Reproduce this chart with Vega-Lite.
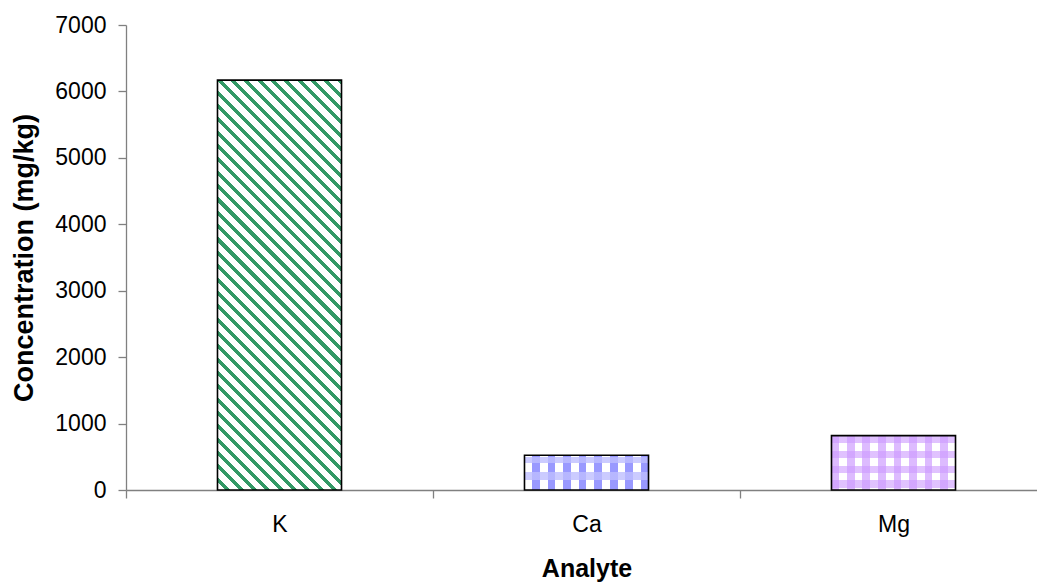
{
  "$schema": "https://vega.github.io/schema/vega-lite/v6.json",
  "width": 911,
  "height": 465,
  "autosize": {"type": "none"},
  "padding": {"left": 126, "top": 25, "right": 0, "bottom": 95},
  "background": "white",
  "config": {"view": {"stroke": null}, "font": "Liberation Sans"},
  "data": {"values": [
    {"Analyte": "K", "Concentration": 6170},
    {"Analyte": "Ca", "Concentration": 522},
    {"Analyte": "Mg", "Concentration": 818}
  ]},
  "encoding": {
    "x": {
      "field": "Analyte", "type": "nominal", "sort": ["K", "Ca", "Mg"],
      "scale": {"range": [0, 921], "paddingInner": 0, "paddingOuter": 0},
      "axis": {"title": "Analyte", "labelAngle": 0, "tickBand": "extent", "grid": false,
        "domainColor": "#808080", "tickColor": "#808080", "tickSize": 8, "domainWidth": 1.3, "tickWidth": 1.3,
        "labelFontSize": 23, "labelColor": "#000000", "labelPadding": 15,
        "titleFontSize": 25, "titleFontWeight": "bold", "titleColor": "#000000", "titlePadding": 20}
    },
    "y": {
      "field": "Concentration", "type": "quantitative",
      "scale": {"domain": [0, 7000], "nice": false},
      "axis": {"title": "Concentration (mg/kg)", "values": [0, 1000, 2000, 3000, 4000, 5000, 6000, 7000],
        "format": "d", "grid": false,
        "domainColor": "#808080", "tickColor": "#808080", "tickSize": 8, "domainWidth": 1.3, "tickWidth": 1.3,
        "labelFontSize": 23, "labelColor": "#000000", "labelPadding": 12,
        "titleFontSize": 27, "titleFontWeight": "bold", "titleColor": "#000000", "titlePadding": 16}
    }
  },
  "layer": [
    {
      "transform": [{"filter": "datum.Analyte == 'K'"}],
      "mark": {"type": "bar", "width": {"band": 0.404}, "fill": {
        "gradient": "linear", "x1": 0, "y1": 1, "x2": 0.361, "y2": -0.193,
        "stops": [
          {"offset": 0, "color": "#ffffff"}, {"offset": 0.0155, "color": "#ffffff"}, {"offset": 0.0155, "color": "#339966"}, {"offset": 0.025, "color": "#339966"},
          {"offset": 0.025, "color": "#ffffff"}, {"offset": 0.0405, "color": "#ffffff"}, {"offset": 0.0405, "color": "#339966"}, {"offset": 0.05, "color": "#339966"},
          {"offset": 0.05, "color": "#ffffff"}, {"offset": 0.0655, "color": "#ffffff"}, {"offset": 0.0655, "color": "#339966"}, {"offset": 0.075, "color": "#339966"},
          {"offset": 0.075, "color": "#ffffff"}, {"offset": 0.0905, "color": "#ffffff"}, {"offset": 0.0905, "color": "#339966"}, {"offset": 0.1, "color": "#339966"},
          {"offset": 0.1, "color": "#ffffff"}, {"offset": 0.1155, "color": "#ffffff"}, {"offset": 0.1155, "color": "#339966"}, {"offset": 0.125, "color": "#339966"},
          {"offset": 0.125, "color": "#ffffff"}, {"offset": 0.1405, "color": "#ffffff"}, {"offset": 0.1405, "color": "#339966"}, {"offset": 0.15, "color": "#339966"},
          {"offset": 0.15, "color": "#ffffff"}, {"offset": 0.1655, "color": "#ffffff"}, {"offset": 0.1655, "color": "#339966"}, {"offset": 0.175, "color": "#339966"},
          {"offset": 0.175, "color": "#ffffff"}, {"offset": 0.1905, "color": "#ffffff"}, {"offset": 0.1905, "color": "#339966"}, {"offset": 0.2, "color": "#339966"},
          {"offset": 0.2, "color": "#ffffff"}, {"offset": 0.2155, "color": "#ffffff"}, {"offset": 0.2155, "color": "#339966"}, {"offset": 0.225, "color": "#339966"},
          {"offset": 0.225, "color": "#ffffff"}, {"offset": 0.2405, "color": "#ffffff"}, {"offset": 0.2405, "color": "#339966"}, {"offset": 0.25, "color": "#339966"},
          {"offset": 0.25, "color": "#ffffff"}, {"offset": 0.2655, "color": "#ffffff"}, {"offset": 0.2655, "color": "#339966"}, {"offset": 0.275, "color": "#339966"},
          {"offset": 0.275, "color": "#ffffff"}, {"offset": 0.2905, "color": "#ffffff"}, {"offset": 0.2905, "color": "#339966"}, {"offset": 0.3, "color": "#339966"},
          {"offset": 0.3, "color": "#ffffff"}, {"offset": 0.3155, "color": "#ffffff"}, {"offset": 0.3155, "color": "#339966"}, {"offset": 0.325, "color": "#339966"},
          {"offset": 0.325, "color": "#ffffff"}, {"offset": 0.3405, "color": "#ffffff"}, {"offset": 0.3405, "color": "#339966"}, {"offset": 0.35, "color": "#339966"},
          {"offset": 0.35, "color": "#ffffff"}, {"offset": 0.3655, "color": "#ffffff"}, {"offset": 0.3655, "color": "#339966"}, {"offset": 0.375, "color": "#339966"},
          {"offset": 0.375, "color": "#ffffff"}, {"offset": 0.3905, "color": "#ffffff"}, {"offset": 0.3905, "color": "#339966"}, {"offset": 0.4, "color": "#339966"},
          {"offset": 0.4, "color": "#ffffff"}, {"offset": 0.4155, "color": "#ffffff"}, {"offset": 0.4155, "color": "#339966"}, {"offset": 0.425, "color": "#339966"},
          {"offset": 0.425, "color": "#ffffff"}, {"offset": 0.4405, "color": "#ffffff"}, {"offset": 0.4405, "color": "#339966"}, {"offset": 0.45, "color": "#339966"},
          {"offset": 0.45, "color": "#ffffff"}, {"offset": 0.4655, "color": "#ffffff"}, {"offset": 0.4655, "color": "#339966"}, {"offset": 0.475, "color": "#339966"},
          {"offset": 0.475, "color": "#ffffff"}, {"offset": 0.4905, "color": "#ffffff"}, {"offset": 0.4905, "color": "#339966"}, {"offset": 0.5, "color": "#339966"},
          {"offset": 0.5, "color": "#ffffff"}, {"offset": 0.5155, "color": "#ffffff"}, {"offset": 0.5155, "color": "#339966"}, {"offset": 0.525, "color": "#339966"},
          {"offset": 0.525, "color": "#ffffff"}, {"offset": 0.5405, "color": "#ffffff"}, {"offset": 0.5405, "color": "#339966"}, {"offset": 0.55, "color": "#339966"},
          {"offset": 0.55, "color": "#ffffff"}, {"offset": 0.5655, "color": "#ffffff"}, {"offset": 0.5655, "color": "#339966"}, {"offset": 0.575, "color": "#339966"},
          {"offset": 0.575, "color": "#ffffff"}, {"offset": 0.5905, "color": "#ffffff"}, {"offset": 0.5905, "color": "#339966"}, {"offset": 0.6, "color": "#339966"},
          {"offset": 0.6, "color": "#ffffff"}, {"offset": 0.6155, "color": "#ffffff"}, {"offset": 0.6155, "color": "#339966"}, {"offset": 0.625, "color": "#339966"},
          {"offset": 0.625, "color": "#ffffff"}, {"offset": 0.6405, "color": "#ffffff"}, {"offset": 0.6405, "color": "#339966"}, {"offset": 0.65, "color": "#339966"},
          {"offset": 0.65, "color": "#ffffff"}, {"offset": 0.6655, "color": "#ffffff"}, {"offset": 0.6655, "color": "#339966"}, {"offset": 0.675, "color": "#339966"},
          {"offset": 0.675, "color": "#ffffff"}, {"offset": 0.6905, "color": "#ffffff"}, {"offset": 0.6905, "color": "#339966"}, {"offset": 0.7, "color": "#339966"},
          {"offset": 0.7, "color": "#ffffff"}, {"offset": 0.7155, "color": "#ffffff"}, {"offset": 0.7155, "color": "#339966"}, {"offset": 0.725, "color": "#339966"},
          {"offset": 0.725, "color": "#ffffff"}, {"offset": 0.7405, "color": "#ffffff"}, {"offset": 0.7405, "color": "#339966"}, {"offset": 0.75, "color": "#339966"},
          {"offset": 0.75, "color": "#ffffff"}, {"offset": 0.7655, "color": "#ffffff"}, {"offset": 0.7655, "color": "#339966"}, {"offset": 0.775, "color": "#339966"},
          {"offset": 0.775, "color": "#ffffff"}, {"offset": 0.7905, "color": "#ffffff"}, {"offset": 0.7905, "color": "#339966"}, {"offset": 0.8, "color": "#339966"},
          {"offset": 0.8, "color": "#ffffff"}, {"offset": 0.8155, "color": "#ffffff"}, {"offset": 0.8155, "color": "#339966"}, {"offset": 0.825, "color": "#339966"},
          {"offset": 0.825, "color": "#ffffff"}, {"offset": 0.8405, "color": "#ffffff"}, {"offset": 0.8405, "color": "#339966"}, {"offset": 0.85, "color": "#339966"},
          {"offset": 0.85, "color": "#ffffff"}, {"offset": 0.8655, "color": "#ffffff"}, {"offset": 0.8655, "color": "#339966"}, {"offset": 0.875, "color": "#339966"},
          {"offset": 0.875, "color": "#ffffff"}, {"offset": 0.8905, "color": "#ffffff"}, {"offset": 0.8905, "color": "#339966"}, {"offset": 0.9, "color": "#339966"},
          {"offset": 0.9, "color": "#ffffff"}, {"offset": 0.9155, "color": "#ffffff"}, {"offset": 0.9155, "color": "#339966"}, {"offset": 0.925, "color": "#339966"},
          {"offset": 0.925, "color": "#ffffff"}, {"offset": 0.9405, "color": "#ffffff"}, {"offset": 0.9405, "color": "#339966"}, {"offset": 0.95, "color": "#339966"},
          {"offset": 0.95, "color": "#ffffff"}, {"offset": 0.9655, "color": "#ffffff"}, {"offset": 0.9655, "color": "#339966"}, {"offset": 0.975, "color": "#339966"},
          {"offset": 0.975, "color": "#ffffff"}, {"offset": 0.9905, "color": "#ffffff"}, {"offset": 0.9905, "color": "#339966"}, {"offset": 1, "color": "#339966"}
        ]}}
    },
    {
      "transform": [{"filter": "datum.Analyte == 'Ca'"}],
      "mark": {"type": "bar", "width": {"band": 0.404}, "fill": {
        "gradient": "linear", "x1": 0, "y1": 0, "x2": 1, "y2": 0,
        "stops": [
          {"offset": 0, "color": "#ffffff"}, {"offset": 0.0625, "color": "#ffffff"}, {"offset": 0.0625, "color": "#9999ff"}, {"offset": 0.125, "color": "#9999ff"},
          {"offset": 0.125, "color": "#ffffff"}, {"offset": 0.1875, "color": "#ffffff"}, {"offset": 0.1875, "color": "#9999ff"}, {"offset": 0.25, "color": "#9999ff"},
          {"offset": 0.25, "color": "#ffffff"}, {"offset": 0.3125, "color": "#ffffff"}, {"offset": 0.3125, "color": "#9999ff"}, {"offset": 0.375, "color": "#9999ff"},
          {"offset": 0.375, "color": "#ffffff"}, {"offset": 0.4375, "color": "#ffffff"}, {"offset": 0.4375, "color": "#9999ff"}, {"offset": 0.5, "color": "#9999ff"},
          {"offset": 0.5, "color": "#ffffff"}, {"offset": 0.5625, "color": "#ffffff"}, {"offset": 0.5625, "color": "#9999ff"}, {"offset": 0.625, "color": "#9999ff"},
          {"offset": 0.625, "color": "#ffffff"}, {"offset": 0.6875, "color": "#ffffff"}, {"offset": 0.6875, "color": "#9999ff"}, {"offset": 0.75, "color": "#9999ff"},
          {"offset": 0.75, "color": "#ffffff"}, {"offset": 0.8125, "color": "#ffffff"}, {"offset": 0.8125, "color": "#9999ff"}, {"offset": 0.875, "color": "#9999ff"},
          {"offset": 0.875, "color": "#ffffff"}, {"offset": 0.9375, "color": "#ffffff"}, {"offset": 0.9375, "color": "#9999ff"}, {"offset": 1, "color": "#9999ff"}
        ]}}
    },
    {
      "transform": [{"filter": "datum.Analyte == 'Ca'"}],
      "mark": {"type": "bar", "width": {"band": 0.404}, "fill": {
        "gradient": "linear", "x1": 0, "y1": 0, "x2": 0, "y2": 1,
        "stops": [
          {"offset": 0, "color": "rgba(255,255,255,0)"}, {"offset": 0.04, "color": "rgba(255,255,255,0)"},
          {"offset": 0.04, "color": "rgba(190,190,255,0.8)"}, {"offset": 0.23, "color": "rgba(190,190,255,0.8)"},
          {"offset": 0.23, "color": "rgba(255,255,255,0)"}, {"offset": 0.47, "color": "rgba(255,255,255,0)"},
          {"offset": 0.47, "color": "rgba(190,190,255,0.8)"}, {"offset": 0.7, "color": "rgba(190,190,255,0.8)"},
          {"offset": 0.7, "color": "rgba(255,255,255,0)"}, {"offset": 1, "color": "rgba(255,255,255,0)"}
        ]}}
    },
    {
      "transform": [{"filter": "datum.Analyte == 'Mg'"}],
      "mark": {"type": "bar", "width": {"band": 0.404}, "fill": {
        "gradient": "linear", "x1": 0, "y1": 0, "x2": 1, "y2": 0,
        "stops": [
          {"offset": 0, "color": "#ddbbff"}, {"offset": 0.0625, "color": "#ddbbff"}, {"offset": 0.0625, "color": "#ffffff"}, {"offset": 0.125, "color": "#ffffff"},
          {"offset": 0.125, "color": "#ddbbff"}, {"offset": 0.1875, "color": "#ddbbff"}, {"offset": 0.1875, "color": "#ffffff"}, {"offset": 0.25, "color": "#ffffff"},
          {"offset": 0.25, "color": "#ddbbff"}, {"offset": 0.3125, "color": "#ddbbff"}, {"offset": 0.3125, "color": "#ffffff"}, {"offset": 0.375, "color": "#ffffff"},
          {"offset": 0.375, "color": "#ddbbff"}, {"offset": 0.4375, "color": "#ddbbff"}, {"offset": 0.4375, "color": "#ffffff"}, {"offset": 0.5, "color": "#ffffff"},
          {"offset": 0.5, "color": "#ddbbff"}, {"offset": 0.5625, "color": "#ddbbff"}, {"offset": 0.5625, "color": "#ffffff"}, {"offset": 0.625, "color": "#ffffff"},
          {"offset": 0.625, "color": "#ddbbff"}, {"offset": 0.6875, "color": "#ddbbff"}, {"offset": 0.6875, "color": "#ffffff"}, {"offset": 0.75, "color": "#ffffff"},
          {"offset": 0.75, "color": "#ddbbff"}, {"offset": 0.8125, "color": "#ddbbff"}, {"offset": 0.8125, "color": "#ffffff"}, {"offset": 0.875, "color": "#ffffff"},
          {"offset": 0.875, "color": "#ddbbff"}, {"offset": 0.9375, "color": "#ddbbff"}, {"offset": 0.9375, "color": "#ffffff"}, {"offset": 1, "color": "#ffffff"}
        ]}}
    },
    {
      "transform": [{"filter": "datum.Analyte == 'Mg'"}],
      "mark": {"type": "bar", "width": {"band": 0.404}, "fill": {
        "gradient": "linear", "x1": 0, "y1": 0, "x2": 0, "y2": 1,
        "stops": [
          {"offset": 0, "color": "rgba(204,153,255,0.6)"}, {"offset": 0.1375, "color": "rgba(204,153,255,0.6)"},
          {"offset": 0.1375, "color": "rgba(255,255,255,0)"}, {"offset": 0.275, "color": "rgba(255,255,255,0)"},
          {"offset": 0.275, "color": "rgba(204,153,255,0.6)"}, {"offset": 0.4125, "color": "rgba(204,153,255,0.6)"},
          {"offset": 0.4125, "color": "rgba(255,255,255,0)"}, {"offset": 0.55, "color": "rgba(255,255,255,0)"},
          {"offset": 0.55, "color": "rgba(204,153,255,0.6)"}, {"offset": 0.6875, "color": "rgba(204,153,255,0.6)"},
          {"offset": 0.6875, "color": "rgba(255,255,255,0)"}, {"offset": 0.825, "color": "rgba(255,255,255,0)"},
          {"offset": 0.825, "color": "rgba(204,153,255,0.6)"}, {"offset": 0.9625, "color": "rgba(204,153,255,0.6)"},
          {"offset": 0.9625, "color": "rgba(255,255,255,0)"}, {"offset": 1, "color": "rgba(255,255,255,0)"}
        ]}}
    },
    {
      "mark": {"type": "bar", "width": {"band": 0.404}, "fill": "transparent", "stroke": "#000000", "strokeWidth": 1.6}
    }
  ]
}
